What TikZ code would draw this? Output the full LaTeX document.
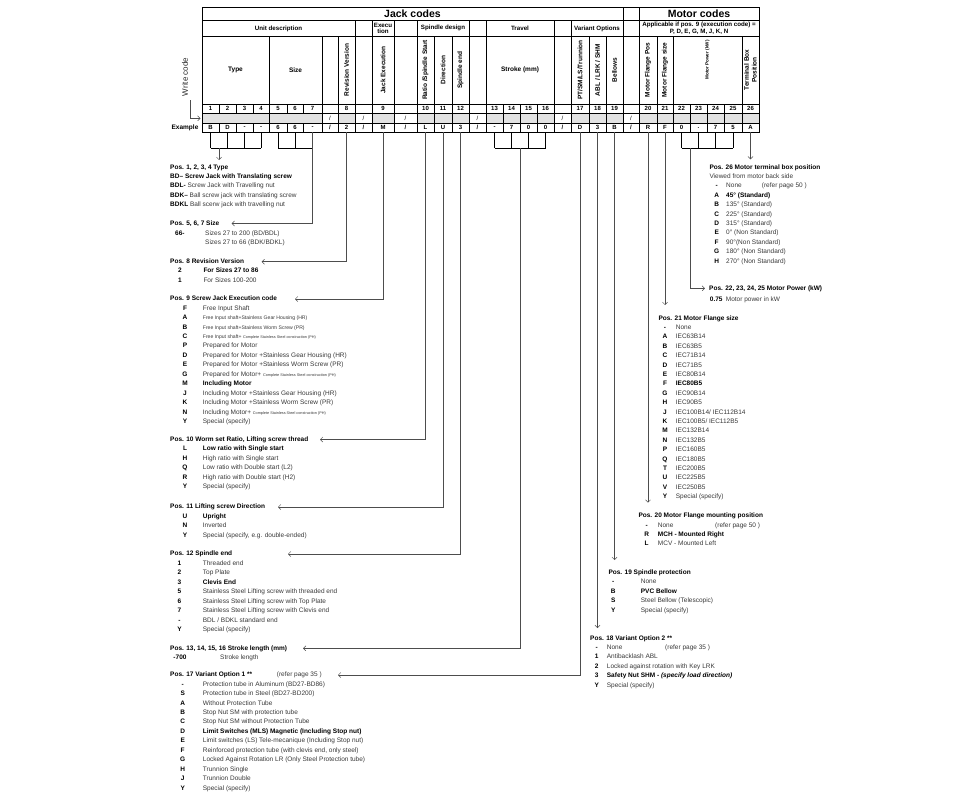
\documentclass[tikz,border=0pt]{standalone}
\usepackage{fontspec}
\setmainfont{Liberation Sans}
\usepackage{tikz}
\usetikzlibrary{arrows.meta, calc}
\definecolor{cline}{HTML}{4D4D4D}
\definecolor{ctxt}{HTML}{383838}
\definecolor{cgrey}{HTML}{E2E2E2}
\newcommand\txtsize{\fontsize{6.5}{7.8}\selectfont}
\newcommand\smsize{\fontsize{5.1}{6}\selectfont}
\newcommand\minisize{\fontsize{3.8}{4.5}\selectfont}
\newcommand\bk[1]{{\color{black}\bfseries #1}}
% column borders of the code table
\def\colbx{{202,219,236,253,269,287,303,322,338,355,372,394,417,434,452,469,486,503,520,537,554,571,589,606,623,639,657,673,690,707,724,742,759}}

\begin{document}
\begin{tikzpicture}[x=1pt, y=-1pt,
  grid/.style={draw=black, line width=0.6pt},
  ttl/.style={font=\fontsize{10.5}{12}\selectfont\bfseries, inner sep=0pt},
  th/.style={font=\txtsize\bfseries, inner sep=0pt, align=center},
  tn/.style={font=\fontsize{6}{7}\selectfont\bfseries, inner sep=0pt},
  hd/.style={font=\txtsize\bfseries, anchor=west, inner sep=0pt, text height=4.8pt, text depth=1.4pt},
  ds/.style={font=\txtsize, text=ctxt, anchor=west, inner sep=0pt, text height=4.8pt, text depth=1.4pt},
  cd/.style={font=\txtsize\bfseries, inner sep=0pt, text height=4.8pt, text depth=1.4pt},
  pointer/.style={draw=cline, line width=0.5pt, -{Straight Barb[length=2.5pt, width=5pt]}},
  brace/.style={draw=black, line width=0.8pt}]
  \useasboundingbox (0,0) rectangle (960,795);

  % Table: title row
  \foreach \a/\b/\t in {1/25/Jack codes, 25/26/{}, 26/33/Motor codes}{
    \pgfmathsetmacro\xa{\colbx[\a-1]}
    \pgfmathsetmacro\xb{\colbx[\b-1]}
    \draw[grid] (\xa,7.3) rectangle (\xb,20.7);
    \node[ttl] (r1-\a) at ({(\xa+\xb)/2},14) {\t};
  }
  % group row
  \foreach \a/\b/\t in {1/10/Unit description, 10/11/{}, 11/12/{Execu\\tion}, 12/13/{}, 13/16/Spindle design,
      16/17/{}, 17/21/Travel, 21/22/{}, 22/25/Variant Options, 25/26/{},
      26/33/{Applicable if pos. 9 (execution code) =\\P, D, E, G, M, J, K, N}}{
    \pgfmathsetmacro\xa{\colbx[\a-1]}
    \pgfmathsetmacro\xb{\colbx[\b-1]}
    \draw[grid] (\xa,20.7) rectangle (\xb,36);
    \node[th, font=\fontsize{6.2}{6.8}\selectfont\bfseries] (r2-\a) at ({(\xa+\xb)/2},28.4) {\t};
  }
  % field names
  \foreach \a/\b/\r/\dy/\t in {1/5/0/0/Type, 5/8/0/0/Size, 8/9/0/0/{}, 9/10/90/0/Revision Version, 10/11/0/0/{},
      11/12/90/0/Jack Execution, 12/13/0/0/{}, 13/14/90/0/{Ratio /Spindle Start}, 14/15/90/0/Direction,
      15/16/90/0/Spindle end, 16/17/0/0/{}, 17/21/0/0/Stroke (mm), 21/22/0/0/{}, 22/23/90/0/{PT/SM/LS/Trunnion},
      23/24/90/0/{ABL / LRK / SHM}, 24/25/90/0/Bellows, 25/26/0/0/{}, 26/27/90/0/Motor Flange Pos,
      27/28/90/0/Motor Flange size, 28/32/90/-10/{\fontsize{4.6}{5}\selectfont Motor Power (kW)},
      32/33/90/0/{Terminal Box\\Position}}{
    \pgfmathsetmacro\xa{\colbx[\a-1]}
    \pgfmathsetmacro\xb{\colbx[\b-1]}
    \draw[grid] (\xa,36) rectangle (\xb,104);
    \node[th, rotate=\r] (r3-\a) at ({(\xa+\xb)/2},{70+\dy}) {\t};
  }
  % position numbers
  \foreach \t [count=\i] in {1,2,3,4,5,6,7,{},8,{},9,{},10,11,12,{},13,14,15,16,{},17,18,19,{},20,21,22,23,24,25,26}{
    \pgfmathsetmacro\xa{\colbx[\i-1]}
    \pgfmathsetmacro\xb{\colbx[\i]}
    \draw[grid] (\xa,104) rectangle (\xb,113.3);
    \node[tn] (r4-\i) at ({(\xa+\xb)/2},108.7) {\t};
  }
  % write-in row
  \foreach \a/\b in {1/5,5/8,9/10,11/12,13/14,14/15,15/16,17/18,18/19,19/20,20/21,22/23,23/24,24/25,
      26/27,27/28,28/29,29/30,30/31,31/32,32/33}{
    \pgfmathsetmacro\xa{\colbx[\a-1]}
    \pgfmathsetmacro\xb{\colbx[\b-1]}
    \draw[grid, fill=cgrey] (\xa,113.3) rectangle (\xb,123.3);
  }
  \foreach \a in {8,10,12,16,21,25}{
    \pgfmathsetmacro\xa{\colbx[\a-1]}
    \pgfmathsetmacro\xb{\colbx[\a]}
    \draw[grid] (\xa,113.3) rectangle (\xb,123.3);
    \node[tn, font=\fontsize{6}{7}\selectfont] (r5-\a) at ({(\xa+\xb)/2},118.3) {/};
  }
  % example row
  \foreach \t [count=\i] in {B,D,-,-,6,6,-,{/},2,{/},M,{/},L,U,3,{/},-,7,0,0,{/},D,3,B,{/},R,F,0,.,7,5,A}{
    \pgfmathsetmacro\xa{\colbx[\i-1]}
    \pgfmathsetmacro\xb{\colbx[\i]}
    \draw[grid] (\xa,123.3) rectangle (\xb,132.3);
    \node[tn] (e\i) at ({(\xa+\xb)/2},127.8) {\t};
  }
  \node[font=\fontsize{8}{9}\selectfont, text=black!85, rotate=90, inner sep=0pt] (wc) at (185,77) {Write code};
  \node[font=\txtsize\bfseries, inner sep=0pt] (exl) at (185,127.8) {Example};
  \coordinate (wt) at (200.5,118.3);
  \draw[pointer] ([xshift=5.7pt, yshift=-4pt]wc.west) |- (wt);

  \coordinate (bot) at (0,132.3);
  \coordinate (brk) at (0,148);

  % brackets under the table
  \foreach \i in {1,...,4} \draw[brace] (e\i |- bot) -- (e\i |- brk);
  \draw[brace] (e1 |- brk) -- (e4 |- brk);
  \foreach \i in {5,6} \draw[brace] (e\i |- bot) -- (e\i |- brk);
  \draw[brace] (e5 |- brk) -- (e7 |- brk);
  \foreach \i in {17,...,20} \draw[brace] (e\i |- bot) -- (e\i |- brk);
  \draw[brace] (e17 |- brk) -- (e20 |- brk);
  \foreach \i in {28,...,31} \draw[brace] (e\i |- bot) -- (e\i |- brk);
  \draw[brace] (e28 |- brk) -- (e31 |- brk);

  % Pos. 1-4
  \node[hd] (p1) at (170,167.3) {Pos. 1, 2, 3, 4 Type};
  \foreach \d [count=\k] in {{\bk{BD– Screw Jack with Translating screw}}, {\bk{BDL-} Screw Jack with Travelling nut},
      {\bk{BDK–} Ball screw jack with translating screw}, {\bk{BDKL} Ball scerw jack with travelling nut}}
    \node[ds] (p1d\k) at (170,{167.3+9.4*\k}) {\d};

  % Pos. 5-7
  \node[hd] (p5) at (170,223.5) {Pos. 5, 6, 7 Size};
  \node[cd, anchor=west] (p5c1) at (175,233.3) {66-};
  \node[ds] (p5d1) at (205,233.3) {Sizes 27 to 200 (BD/BDL)};
  \node[ds] (p5d2) at (205,242.7) {Sizes 27 to 66 (BDK/BDKL)};

  % Pos. 8
  \node[hd] (p8) at (170,261.7) {Pos. 8 Revision Version};
  \foreach \c/\d [count=\k] in {2/\bk{For Sizes 27 to 86}, 1/For Sizes 100-200}{
    \node[cd] (p8c\k) at (180,{261.7+9.5*\k}) {\c};
    \node[ds] (p8d\k) at (203.3,{261.7+9.5*\k}) {\d};
  }

  % Pos. 9
  \node[hd] (p9) at (170,299) {Pos. 9 Screw Jack Execution code};
  \foreach \c/\d [count=\k] in {F/Free Input Shaft,
      A/{\smsize Free Input shaft+Stainless Gear Housing (HR)},
      B/{\smsize Free Input shaft+Stainless Worm Screw (PR)},
      C/{\smsize Free Input shaft+ \minisize Complete Stainless Steel construction (PH)},
      P/Prepared for Motor,
      D/Prepared for Motor +Stainless Gear Housing (HR),
      E/Prepared for Motor +Stainless Worm Screw (PR),
      G/{Prepared for Motor+ \minisize Complete Stainless Steel construction (PH)},
      M/\bk{Including Motor},
      J/Including Motor +Stainless Gear Housing (HR),
      K/Including Motor +Stainless Worm Screw (PR),
      N/{Including Motor+ \minisize Complete Stainless Steel construction (PH)},
      Y/Special (specify)}{
    \node[cd] (p9c\k) at (185,{299+9.45*\k}) {\c};
    \node[ds] (p9d\k) at (202.7,{299+9.45*\k}) {\d};
  }

  % Pos. 10
  \node[hd] (p10) at (170,439.5) {Pos. 10 Worm set Ratio, Lifting screw thread};
  \foreach \c/\d [count=\k] in {L/\bk{Low ratio with Single start}, H/High ratio with Single start,
      Q/Low ratio with Double start (L2), R/High ratio with Double start (H2), Y/Special (specify)}{
    \node[cd] (p10c\k) at (185,{439.5+9.5*\k}) {\c};
    \node[ds] (p10d\k) at (202.7,{439.5+9.5*\k}) {\d};
  }

  % Pos. 11
  \node[hd] (p11) at (170,507) {Pos. 11 Lifting screw Direction};
  \foreach \c/\d [count=\k] in {U/\bk{Upright}, N/Inverted, Y/{Special (specify, e.g. double-ended)}}{
    \node[cd] (p11c\k) at (185,{507+9.5*\k}) {\c};
    \node[ds] (p11d\k) at (202.7,{507+9.5*\k}) {\d};
  }

  % Pos. 12
  \node[hd] (p12) at (170,554) {Pos. 12 Spindle end};
  \foreach \c/\d [count=\k] in {1/Threaded end, 2/Top Plate, 3/\bk{Clevis End},
      5/Stainless Steel Lifting screw with threaded end, 6/Stainless Steel Lifting screw with Top Plate,
      7/Stainless Steel Lifting screw with Clevis end, -/{BDL / BDKL standard end}, Y/Special (specify)}{
    \node[cd] (p12c\k) at (179.5,{554+9.5*\k}) {\c};
    \node[ds] (p12d\k) at (202.7,{554+9.5*\k}) {\d};
  }

  % Pos. 13-16
  \node[hd] (p13) at (170,648.3) {Pos. 13, 14, 15, 16 Stroke length (mm)};
  \node[cd] (p13c1) at (180,657.7) {-700};
  \node[ds] (p13d1) at (220,657.7) {Stroke length};

  % Pos. 17
  \node[hd] (p17) at (170,675) {Pos. 17 Variant Option 1 **};
  \node[ds] (p17r) at (276.7,675) {(refer page 35 )};
  \foreach \c/\d [count=\k] in {-/Protection tube in Aluminum (BD27-BD86), S/Protection tube in Steel (BD27-BD200),
      A/Without Protection Tube, B/Stop Nut SM with protection tube, C/Stop Nut SM without Protection Tube,
      D/\bk{Limit Switches (MLS) Magnetic (Including Stop nut)}, E/Limit switches (LS) Tele-mecanique (Including Stop nut),
      F/{Reinforced protection tube (with clevis end, only steel)}, G/Locked Against Rotation LR (Only Steel Protection tube),
      H/Trunnion Single, J/Trunnion Double, Y/Special (specify)}{
    \node[cd] (p17c\k) at (182.7,{675+9.45*\k}) {\c};
    \node[ds] (p17d\k) at (202.7,{675+9.45*\k}) {\d};
  }

  % Pos. 26
  \node[hd] (p26) at (709.3,167.3) {Pos. 26 Motor terminal box position};
  \node[ds] (p26v) at (709.3,176.7) {Viewed from motor back side};
  \foreach \c/\d [count=\k] in {-/None, A/\bk{45° (Standard)}, B/135° (Standard), C/225° (Standard),
      D/315° (Standard), E/0° (Non Standard), F/90°(Non Standard), G/180° (Non Standard), H/270° (Non Standard)}{
    \node[cd] (p26c\k) at (716.7,{176.7+9.4*\k}) {\c};
    \node[ds] (p26d\k) at (726,{176.7+9.4*\k}) {\d};
  }
  \node[ds] (p26r) at (761.7,186.1) {(refer page 50 )};

  % Pos. 22-25
  \node[hd] (p22) at (709,288.3) {Pos. 22, 23, 24, 25 Motor Power (kW)};
  \node[cd, anchor=west] (p22c) at (709.7,299.3) {0.75};
  \node[ds] (p22d) at (725.7,299.3) {Motor power in kW};

  % Pos. 21
  \node[hd] (p21) at (658.3,318.3) {Pos. 21 Motor Flange size};
  \foreach \c/\d [count=\k] in {-/None, A/IEC63B14, B/IEC63B5, C/IEC71B14, D/IEC71B5, E/IEC80B14, F/\bk{IEC80B5},
      G/IEC90B14, H/IEC90B5, J/{IEC100B14/ IEC112B14}, K/{IEC100B5/ IEC112B5}, M/IEC132B14, N/IEC132B5,
      P/IEC160B5, Q/IEC180B5, T/IEC200B5, U/IEC225B5, V/IEC250B5, Y/Special (specify)}{
    \node[cd] (p21c\k) at (665,{318.3+9.4*\k}) {\c};
    \node[ds] (p21d\k) at (675.7,{318.3+9.4*\k}) {\d};
  }

  % Pos. 20
  \node[hd] (p20) at (638.3,516) {Pos. 20 Motor Flange mounting position};
  \foreach \c/\d [count=\k] in {-/None, R/\bk{MCH - Mounted Right}, L/MCV - Mounted Left}{
    \node[cd] (p20c\k) at (646.7,{516+9.4*\k}) {\c};
    \node[ds] (p20d\k) at (657.7,{516+9.4*\k}) {\d};
  }
  \node[ds] (p20r) at (715,525.4) {(refer page 50 )};

  % Pos. 19
  \node[hd] (p19) at (608.3,572.7) {Pos. 19 Spindle protection};
  \foreach \c/\d [count=\k] in {-/None, B/\bk{PVC Bellow}, S/Steel Bellow (Telescopic), Y/Special (specify)}{
    \node[cd] (p19c\k) at (613.3,{572.7+9.4*\k}) {\c};
    \node[ds] (p19d\k) at (640.7,{572.7+9.4*\k}) {\d};
  }

  % Pos. 18
  \node[hd] (p18) at (590,638.3) {Pos. 18 Variant Option 2 **};
  \foreach \c/\d [count=\k] in {-/None, 1/Antibacklash ABL, 2/Locked against rotation with Key LRK,
      3/\bk{Safety Nut SHM - \itshape(specify load direction)}, Y/Special (specify)}{
    \node[cd] (p18c\k) at (596.7,{638.3+9.4*\k}) {\c};
    \node[ds] (p18d\k) at (606.7,{638.3+9.4*\k}) {\d};
  }
  \node[ds] (p18r) at (665,647.7) {(refer page 35 )};

  % arrow ends
  \coordinate (t1) at (219,160);
  \coordinate (t5) at (231.7,223.5);
  \coordinate (t8) at (261.7,261.7);
  \coordinate (t9) at (295,299);
  \coordinate (t10) at (320,439.5);
  \coordinate (t11) at (278,507);
  \coordinate (t12) at (288,554);
  \coordinate (t13) at (303,648.3);
  \coordinate (t17) at (338,675);
  \coordinate (t18) at (597.5,628);
  \coordinate (t19) at (614.5,560);
  \coordinate (t20) at (648,502.7);
  \coordinate (t21) at (665,305);
  \coordinate (t22) at (705,288.3);
  \coordinate (t26) at (750.5,159.3);
  \coordinate (s13) at (520,148);
  \coordinate (s22) at (690,148);

  % connectors
  \draw[pointer] (t1 |- brk) -- (t1);
  \draw[pointer] (e7 |- bot) |- (t5);
  \draw[pointer] (e9 |- bot) |- (t8);
  \draw[pointer] (e11 |- bot) |- (t9);
  \draw[pointer] (e13 |- bot) |- (t10);
  \draw[pointer] (e14 |- bot) |- (t11);
  \draw[pointer] (e15 |- bot) |- (t12);
  \draw[pointer] (s13) |- (t13);
  \draw[pointer] (e22 |- bot) |- (t17);
  \draw[pointer] (e23 |- bot) -- (t18);
  \draw[pointer] (e24 |- bot) -- (t19);
  \draw[pointer] (e26 |- bot) -- (t20);
  \draw[pointer] (e27 |- bot) -- (t21);
  \draw[pointer] (s22) |- (t22);
  \draw[pointer] (e32 |- bot) -- (t26);
\end{tikzpicture}
\end{document}
